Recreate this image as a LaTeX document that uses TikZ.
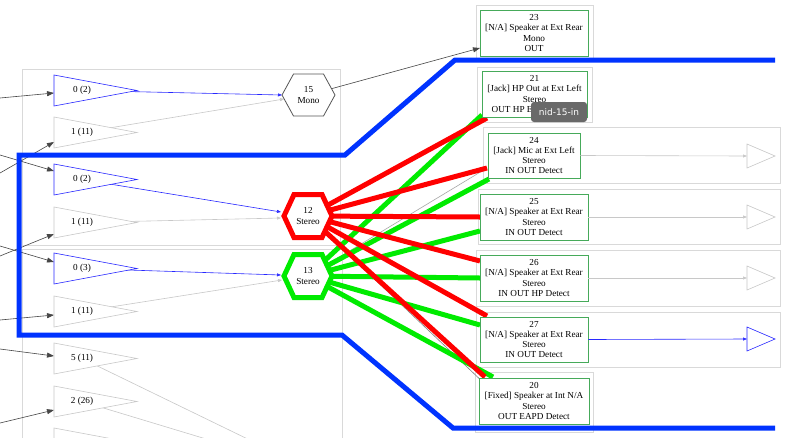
\documentclass[tikz,border=0pt]{standalone}
\usepackage{fontspec}
\setmainfont{Liberation Serif}
\newfontfamily\tipfont{DejaVu Sans}
\usetikzlibrary{arrows.meta}
\definecolor{hlblue}{RGB}{0,51,255}
\definecolor{hlred}{RGB}{255,0,0}
\definecolor{hlgreen}{RGB}{0,235,0}
\definecolor{edgeblue}{RGB}{40,40,255}
\definecolor{boxgreen}{RGB}{70,170,90}
\definecolor{clus}{RGB}{217,217,217}
\definecolor{faint}{RGB}{200,200,200}
\definecolor{dark}{RGB}{70,70,70}
\definecolor{hexgray}{RGB}{85,85,85}
\definecolor{tipgray}{RGB}{105,105,105}
\newcommand\lampshape[2]{\draw[#1] (54,#2) -- ++(83,15.5) -- ++(-83,15.5) -- cycle;}
\newcommand\rampshape[2]{\draw[#1] (747,#2) -- ++(28,12) -- ++(-28,12) -- cycle;}
\begin{document}
\begin{tikzpicture}[x=1pt,y=-1pt,
  clusterbox/.style={draw=clus,line width=0.8pt},
  pinbox/.style={draw=boxgreen,line width=0.9pt,fill=white,align=center,font=\fontsize{9.2}{10.3}\selectfont,inner sep=0pt,minimum height=46pt},
  lbl/.style={font=\fontsize{9.2}{10.3}\selectfont,inner sep=0pt,align=center},
  inarrow/.style={draw=dark,line width=0.6pt,-{Triangle[length=7pt,width=5pt]}},
  fainttip/.style={draw=faint,line width=0.6pt,-{Triangle[length=4pt,width=3pt]}},
  faintline/.style={draw=faint,line width=0.6pt},
  blueedge/.style={draw=edgeblue,line width=0.6pt,-{Triangle[length=4pt,width=3pt]}},
  darkedge/.style={draw=dark,line width=0.6pt,-{Triangle[length=7pt,width=5pt]}},
  hlr/.style={draw=hlred,line width=5pt},
  hlg/.style={draw=hlgreen,line width=5pt},
  hlb/.style={draw=hlblue,line width=5pt},
  ampfaint/.style={draw=faint,fill=white,line width=0.6pt},
  ampblue/.style={draw=edgeblue,fill=white,line width=0.6pt},
  tooltipbox/.style={fill=tipgray,rounded corners=3pt,text=white,font=\tipfont\fontsize{9}{10}\selectfont,minimum width=56pt,minimum height=20pt,inner sep=0pt}
]
\useasboundingbox (0,0) rectangle (790,437);
\fill[white] (0,0) rectangle (790,437);
\clip (0,0) rectangle (790,437);

% clusters
\draw[clusterbox] (22,69) rectangle (340,245);
\draw[clusterbox] (22,249) rectangle (342,450);
\draw[clusterbox] (476,5) rectangle (593,61);
\draw[clusterbox] (477,67) rectangle (592,122);
\draw[clusterbox] (483,127) rectangle (780,183);
\draw[clusterbox] (478,189) rectangle (780,244);
\draw[clusterbox] (476,250) rectangle (780,306);
\draw[clusterbox] (476,312) rectangle (780,367);
\draw[clusterbox] (475,372) rectangle (593,432);

% coordinates
\coordinate (t1c) at (82,90.5);
\coordinate (t2c) at (82,132.5);
\coordinate (t3c) at (82,179.5);
\coordinate (t4c) at (82,222.5);
\coordinate (t5c) at (82,268.5);
\coordinate (t6c) at (82,311.5);
\coordinate (t7c) at (82,358.5);
\coordinate (t8c) at (82,401.5);
\coordinate (h15c) at (308.5,95);
\coordinate (h12c) at (308,216);
\coordinate (h13c) at (308,276);

\coordinate (s1) at (0,98);   \coordinate (e1) at (54,93);
\coordinate (s2) at (0,173);  \coordinate (e2) at (54,142);
\coordinate (s3) at (0,155);  \coordinate (e3) at (54,171);
\coordinate (s4) at (0,256);  \coordinate (e4) at (54,234);
\coordinate (s5) at (0,246);  \coordinate (e5) at (54,262);
\coordinate (s6) at (0,320);  \coordinate (e6) at (54,315);
\coordinate (s7) at (0,349);  \coordinate (e7) at (54,356);
\coordinate (s8) at (0,423);  \coordinate (e8) at (54,410);

\coordinate (h15in1) at (282,95);
\coordinate (h15in2) at (284,99);
\coordinate (h12in1) at (281,212);
\coordinate (h12in2) at (281,218);
\coordinate (h13in1) at (281,275);
\coordinate (h13in2) at (282,280);
\coordinate (o7) at (260,445);
\coordinate (o8) at (226,445);
\coordinate (b23in) at (480,48);

\coordinate (g21) at (482,115);
\coordinate (g24) at (489,179);
\coordinate (g25) at (480,231);
\coordinate (g26) at (480,278);
\coordinate (g27) at (480,325);
\coordinate (g20) at (493,377);
\coordinate (r21) at (487,118);
\coordinate (r24) at (487,168);
\coordinate (r25) at (480,217);
\coordinate (r26) at (480,261);
\coordinate (r27) at (487,316);
\coordinate (r20) at (485,377);
\coordinate (x20) at (486,385);

\coordinate (ra24) at (747,156);
\coordinate (ra25) at (747,217);
\coordinate (ra26) at (747,278);
\coordinate (ra27) at (747,339);

% incoming edges
\draw[inarrow] (s1) -- (e1);
\draw[inarrow] (s2) -- (e2);
\draw[inarrow] (s3) -- (e3);
\draw[inarrow] (s4) -- (e4);
\draw[inarrow] (s5) -- (e5);
\draw[inarrow] (s6) -- (e6);
\draw[inarrow] (s7) -- (e7);
\draw[inarrow] (s8) -- (e8);

% inner edges
\draw[blueedge] (t1c) -- (h15in1);
\draw[fainttip] (t2c) -- (h15in2);
\draw[blueedge] (t3c) -- (h12in1);
\draw[fainttip] (t4c) -- (h12in2);
\draw[blueedge] (t5c) -- (h13in1);
\draw[fainttip] (t6c) -- (h13in2);
\draw[faintline] (t7c) -- (o7);
\draw[faintline] (t8c) -- (o8);
\draw[darkedge] (h15c) -- (b23in);

% triangles
\lampshape{ampblue}{75}
\lampshape{ampfaint}{117}
\lampshape{ampblue}{164}
\lampshape{ampfaint}{207}
\lampshape{ampblue}{253}
\lampshape{ampfaint}{296}
\lampshape{ampfaint}{343}
\lampshape{ampfaint}{386}
\lampshape{ampfaint}{428}
\node[lbl] (t1) at (t1c) {0 (2)};
\node[lbl] (t2) at (t2c) {1 (11)};
\node[lbl] (t3) at (t3c) {0 (2)};
\node[lbl] (t4) at (t4c) {1 (11)};
\node[lbl] (t5) at (t5c) {0 (3)};
\node[lbl] (t6) at (t6c) {1 (11)};
\node[lbl] (t7) at (t7c) {5 (11)};
\node[lbl] (t8) at (t8c) {2 (26)};

% underlying thin edges
\draw[line width=0.6pt,draw=gray!70] (h13c) -- (r24);
\draw[darkedge,draw=gray] (h12c) -- (x20);
\draw[darkedge,draw=gray] (h12c) -- (r26);
\draw[darkedge,draw=gray] (h12c) -- (r27);

% highlighted edges
\draw[hlg] (h13c) -- (g21);
\draw[hlg] (h13c) -- (g24);
\draw[hlg] (h13c) -- (g25);
\draw[hlg] (h13c) -- (g26);
\draw[hlg] (h13c) -- (g27);
\draw[hlg] (h13c) -- (g20);
\draw[hlr] (h12c) -- (r21);
\draw[hlr] (h12c) -- (r24);
\draw[hlr] (h12c) -- (r25);
\draw[hlr] (h12c) -- (r26);
\draw[hlr] (h12c) -- (r27);
\draw[hlr] (h12c) -- (r20);

% hexagons
\draw[draw=hexgray,fill=white,line width=0.8pt] (h15c) ++(-26.5,0) -- ++(11.5,-21) -- ++(30,0) -- ++(11.5,21) -- ++(-11.5,21) -- ++(-30,0) -- cycle;
\node[lbl] (h15) at (h15c) {15\\Mono};
\draw[hlr,fill=white] (h12c) ++(-24,0) -- ++(10,-21.5) -- ++(28,0) -- ++(10,21.5) -- ++(-10,21.5) -- ++(-28,0) -- cycle;
\node[lbl] (h12) at (h12c) {12\\Stereo};
\draw[hlg,fill=white] (h13c) ++(-24,0) -- ++(10,-21.5) -- ++(28,0) -- ++(10,21.5) -- ++(-10,21.5) -- ++(-28,0) -- cycle;
\node[lbl] (h13) at (h13c) {13\\Stereo};

% pin boxes
\node[pinbox,minimum width=108pt] (b23) at (534,33) {23\\{[N/A]} Speaker at Ext Rear\\Mono\\OUT};
\node[pinbox,minimum width=105pt] (b21) at (534.5,94) {21\\{[Jack]} HP Out at Ext Left\\Stereo\\OUT HP EAPD Detect};
\node[pinbox,minimum width=92pt,minimum height=45pt] (b24) at (534,155.5) {24\\{[Jack]} Mic at Ext Left\\Stereo\\IN OUT Detect};
\node[pinbox,minimum width=108pt] (b25) at (534,217) {25\\{[N/A]} Speaker at Ext Rear\\Stereo\\IN OUT Detect};
\node[pinbox,minimum width=108pt] (b26) at (534,278) {26\\{[N/A]} Speaker at Ext Rear\\Stereo\\IN OUT HP Detect};
\node[pinbox,minimum width=108pt,minimum height=45pt] (b27) at (534,339.5) {27\\{[N/A]} Speaker at Ext Rear\\Stereo\\IN OUT Detect};
\node[pinbox,minimum width=110pt] (b20) at (534,401) {20\\{[Fixed]} Speaker at Int N/A\\Stereo\\OUT EAPD Detect};

% right side amps
\draw[fainttip] (b24.east) -- (ra24);
\draw[fainttip] (b25.east) -- (ra25);
\draw[fainttip] (b26.east) -- (ra26);
\draw[blueedge] (b27.east) -- (ra27);
\rampshape{ampfaint}{144}
\rampshape{ampfaint}{205}
\rampshape{ampfaint}{266}
\rampshape{ampblue}{327}

% blue highlight
\draw[hlb] (775,60) -- (455,60) -- (345,155) -- (19,155) -- (19,335) -- (342,335) -- (453,428) -- (775,428);

% tooltip
\node[tooltipbox] (tooltip) at (559,112) {nid-15-in};
\end{tikzpicture}
\end{document}
